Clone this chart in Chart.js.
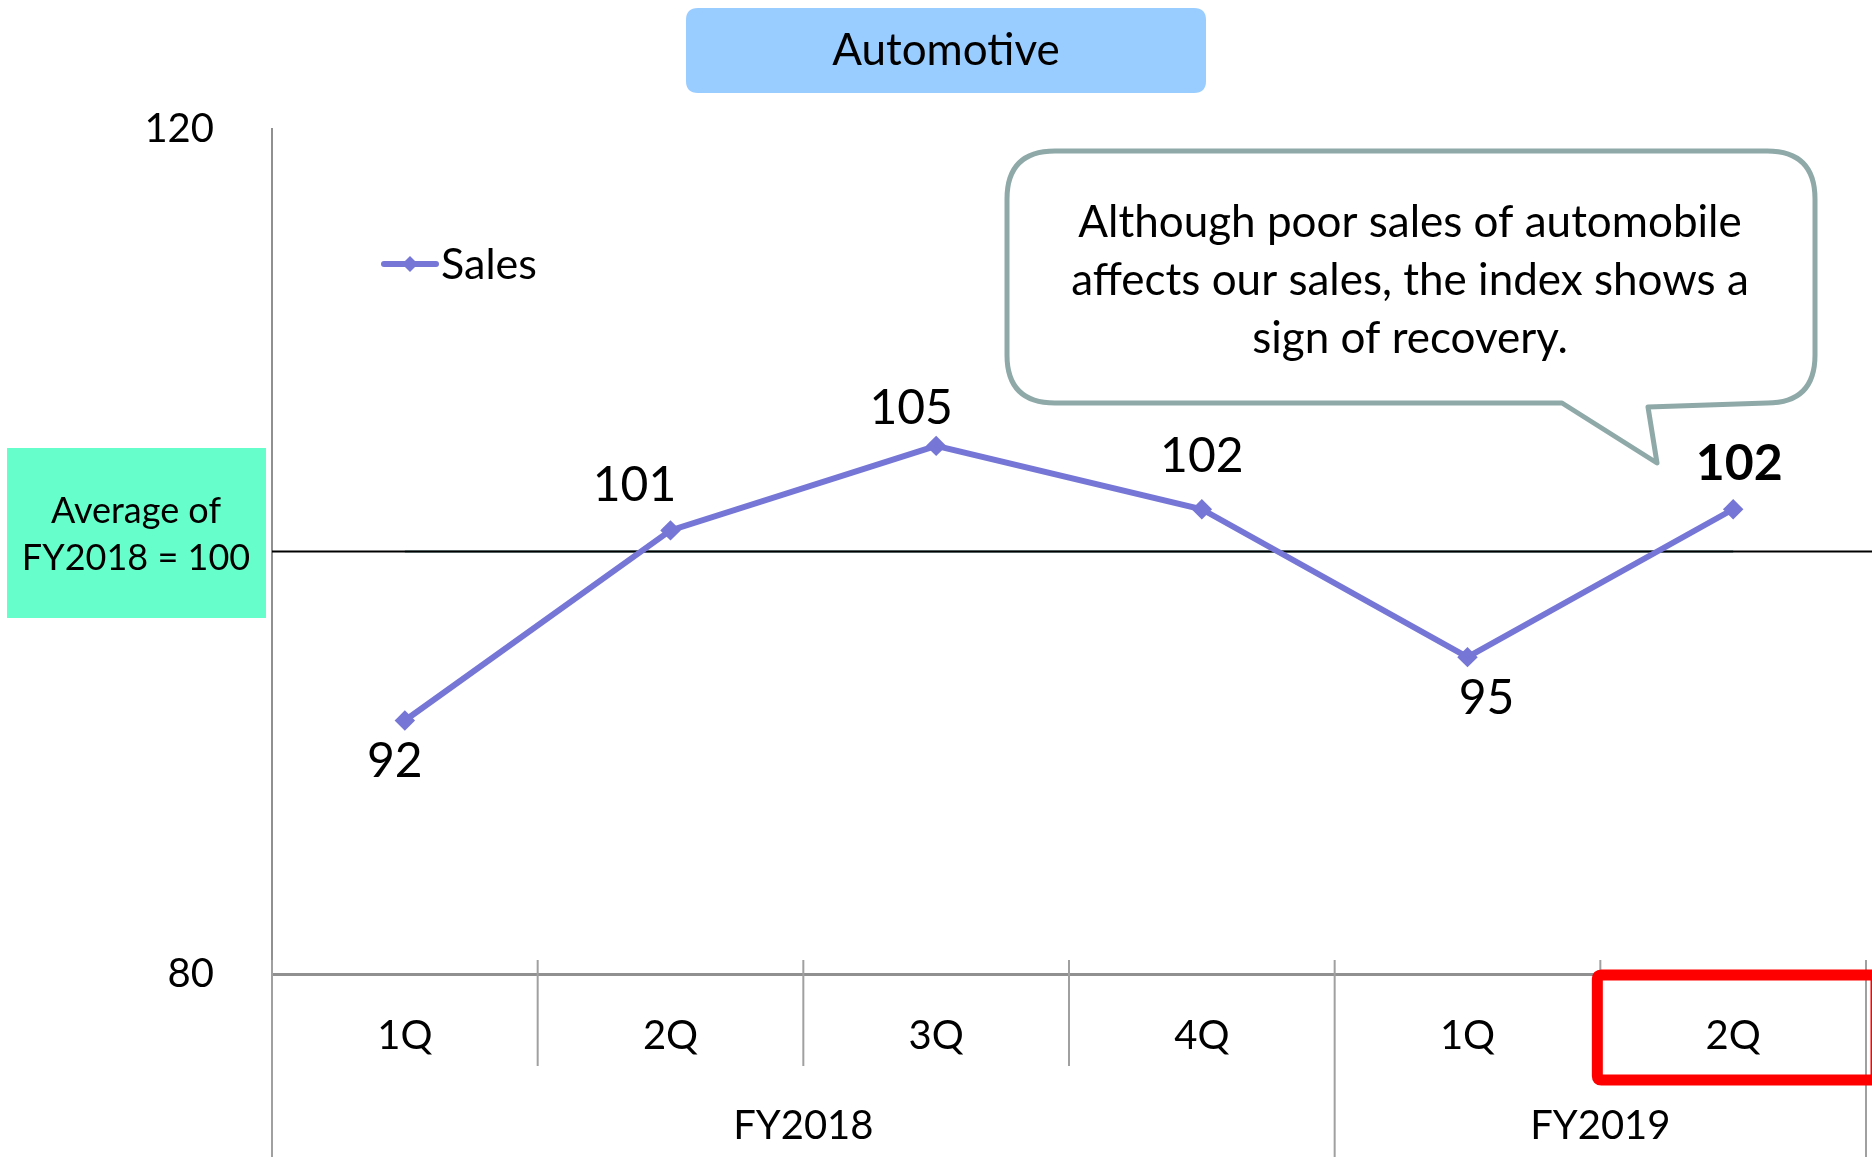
<!DOCTYPE html>
<html>
<head>
<meta charset="utf-8">
<script src="https://cdn.jsdelivr.net/npm/chart.js@4"></script>
<style>
  html, body { margin: 0; padding: 0; background: #fff; overflow: hidden; }
  #wrap { width: 1872px; height: 1157px; }
  canvas { display: block; }
</style>
</head>
<body>
<div id="wrap"><canvas id="autoChart" width="1872" height="1157"></canvas></div>
<script>
const quarterLabels = ['1Q', '2Q', '3Q', '4Q', '1Q', '2Q'];
const fiscalYears = ['FY2018', 'FY2018', 'FY2018', 'FY2018', 'FY2019', 'FY2019'];
const salesValues = [92, 101, 105, 102, 95, 102];
const averageValues = [100, 100, 100, 100, 100, 100];
const yTicks = [80, 120];
const noteLines = ['Although poor sales of automobile', 'affects our sales, the index shows a', 'sign of recovery.'];

const FONT = 'Lato, "Open Sans", sans-serif';
const lineColor = '#7676d6';

// label placement around each point: [dx, dy]
const labelOffsets = [[-10, 41], [-36, -45], [-25, -37], [0, -53], [19, 41], [6, -45]];

function roundRect(ctx, x, y, w, h, r) {
  ctx.beginPath();
  ctx.moveTo(x + r, y);
  ctx.lineTo(x + w - r, y);
  ctx.quadraticCurveTo(x + w, y, x + w, y + r);
  ctx.lineTo(x + w, y + h - r);
  ctx.quadraticCurveTo(x + w, y + h, x + w - r, y + h);
  ctx.lineTo(x + r, y + h);
  ctx.quadraticCurveTo(x, y + h, x, y + h - r);
  ctx.lineTo(x, y + r);
  ctx.quadraticCurveTo(x, y, x + r, y);
  ctx.closePath();
}

const decorations = {
  id: 'decorations',
  beforeDatasetDraw(chart, args) {
    if (args.index !== 0) return;
    const { ctx, chartArea, scales } = chart;
    const y = scales.y.getPixelForValue(100);
    ctx.save();
    ctx.strokeStyle = '#000';
    ctx.lineWidth = 2;
    ctx.beginPath();
    ctx.moveTo(chartArea.left, y);
    ctx.lineTo(chart.width, y);
    ctx.stroke();
    ctx.restore();
  },
  afterDraw(chart) {
    const { ctx, chartArea, scales } = chart;
    const x = scales.x;
    const n = quarterLabels.length;
    const step = x.getPixelForValue(1) - x.getPixelForValue(0);
    const H = chart.height;
    ctx.save();

    // category separators under the axis
    ctx.strokeStyle = '#a0a0a0';
    ctx.lineWidth = 2;
    for (let i = 0; i <= n; i++) {
      const bx = x.getPixelForValue(0) - step / 2 + i * step;
      const yearEdge = i === 0 || i === n || fiscalYears[i] !== fiscalYears[i - 1];
      ctx.beginPath();
      ctx.moveTo(bx, chartArea.bottom - 14);
      ctx.lineTo(bx, yearEdge ? H : chartArea.bottom + 92);
      ctx.stroke();
    }

    // fiscal year labels
    ctx.fillStyle = '#000';
    ctx.font = '40px ' + FONT;
    ctx.textAlign = 'center';
    ctx.textBaseline = 'middle';
    let start = 0;
    for (let i = 1; i <= n; i++) {
      if (i === n || fiscalYears[i] !== fiscalYears[start]) {
        const cx = (x.getPixelForValue(start) + x.getPixelForValue(i - 1)) / 2;
        ctx.fillText(fiscalYears[start], cx, 1126);
        start = i;
      }
    }

    // red highlight on latest quarter
    const lx = x.getPixelForValue(n - 1) - step / 2 - 3;
    ctx.strokeStyle = '#ff0000';
    ctx.lineWidth = 11;
    roundRect(ctx, lx, chartArea.bottom + 1, chartArea.right + 10 - lx, 105, 4);
    ctx.stroke();

    // data labels
    const meta = chart.getDatasetMeta(0);
    meta.data.forEach((pt, i) => {
      const last = i === n - 1;
      ctx.font = (last ? 'bold 50px ' : '48px ') + FONT;
      ctx.fillStyle = '#000';
      ctx.fillText(String(salesValues[i]), pt.x + labelOffsets[i][0], pt.y + labelOffsets[i][1]);
    });

    // legend
    ctx.strokeStyle = lineColor;
    ctx.lineWidth = 6;
    ctx.lineCap = 'round';
    ctx.beginPath();
    ctx.moveTo(384, 264);
    ctx.lineTo(436, 264);
    ctx.stroke();
    ctx.fillStyle = lineColor;
    ctx.beginPath();
    ctx.moveTo(410, 256); ctx.lineTo(418, 264); ctx.lineTo(410, 272); ctx.lineTo(402, 264);
    ctx.closePath();
    ctx.fill();
    ctx.fillStyle = '#000';
    ctx.font = '43px ' + FONT;
    ctx.textAlign = 'left';
    ctx.fillText(chart.data.datasets[0].label, 441, 265);

    // title box
    ctx.fillStyle = '#99ccff';
    roundRect(ctx, 686, 8, 520, 85, 12);
    ctx.fill();
    ctx.fillStyle = '#000';
    ctx.font = '44px ' + FONT;
    ctx.textAlign = 'center';
    ctx.fillText('Automotive', 946, 51);

    // average note box
    ctx.fillStyle = '#66ffcc';
    ctx.fillRect(7, 448, 259, 170);
    ctx.fillStyle = '#000';
    ctx.font = '36px ' + FONT;
    ctx.fillText('Average of', 136, 511);
    ctx.fillText('FY2018 = 100', 136, 558);

    // speech bubble
    const bx = 1007, by = 151, bw = 808, bh = 252, r = 48;
    ctx.beginPath();
    ctx.moveTo(bx + r, by);
    ctx.lineTo(bx + bw - r, by);
    ctx.quadraticCurveTo(bx + bw, by, bx + bw, by + r);
    ctx.lineTo(bx + bw, by + bh - r);
    ctx.quadraticCurveTo(bx + bw, by + bh, bx + bw - r, by + bh);
    ctx.lineTo(1648, by + bh + 4);
    ctx.lineTo(1657, 463);
    ctx.lineTo(1562, by + bh);
    ctx.lineTo(bx + r, by + bh);
    ctx.quadraticCurveTo(bx, by + bh, bx, by + bh - r);
    ctx.lineTo(bx, by + r);
    ctx.quadraticCurveTo(bx, by, bx + r, by);
    ctx.closePath();
    ctx.fillStyle = '#fff';
    ctx.fill();
    ctx.strokeStyle = '#8fa9a9';
    ctx.lineWidth = 5;
    ctx.lineJoin = 'round';
    ctx.stroke();
    ctx.fillStyle = '#000';
    ctx.font = '44px ' + FONT;
    noteLines.forEach((t, i) => ctx.fillText(t, 1410, 223 + i * 58));

    ctx.restore();
  }
};

new Chart(document.getElementById('autoChart'), {
  type: 'line',
  data: {
    labels: quarterLabels,
    datasets: [
      {
        label: 'Sales',
        data: salesValues,
        borderColor: lineColor,
        backgroundColor: lineColor,
        borderWidth: 6,
        pointStyle: 'rectRot',
        pointRadius: 6,
        pointHoverRadius: 6,
        tension: 0,
      },
      {
        label: 'Average',
        data: averageValues,
        borderColor: '#a3bdbd',
        borderWidth: 3,
        pointRadius: 0,
        tension: 0,
      },
    ],
  },
  options: {
    responsive: false,
    animation: false,
    events: [],
    layout: { autoPadding: false, padding: { top: 129, right: 6, left: 0, bottom: 0 } },
    plugins: { legend: { display: false }, tooltip: { enabled: false } },
    scales: {
      x: {
        offset: true,
        grid: { display: false, drawTicks: false },
        border: { display: true, color: '#909090', width: 3 },
        ticks: { color: '#000', font: { family: FONT, size: 40 }, padding: 38 },
        afterFit(scale) {
          scale.height = 183;
          scale.paddingLeft = 0;
          scale.paddingRight = 0;
        },
      },
      y: {
        min: 80,
        max: 120,
        afterBuildTicks(scale) { scale.ticks = yTicks.map(v => ({ value: v })); },
        grid: { display: false, drawTicks: false },
        border: { display: true, color: '#909090', width: 2 },
        ticks: { color: '#000', font: { family: FONT, size: 40 }, padding: 58 },
        afterFit(scale) { scale.width = 272; },
      },
    },
  },
  plugins: [decorations],
});
</script>
</body>
</html>
